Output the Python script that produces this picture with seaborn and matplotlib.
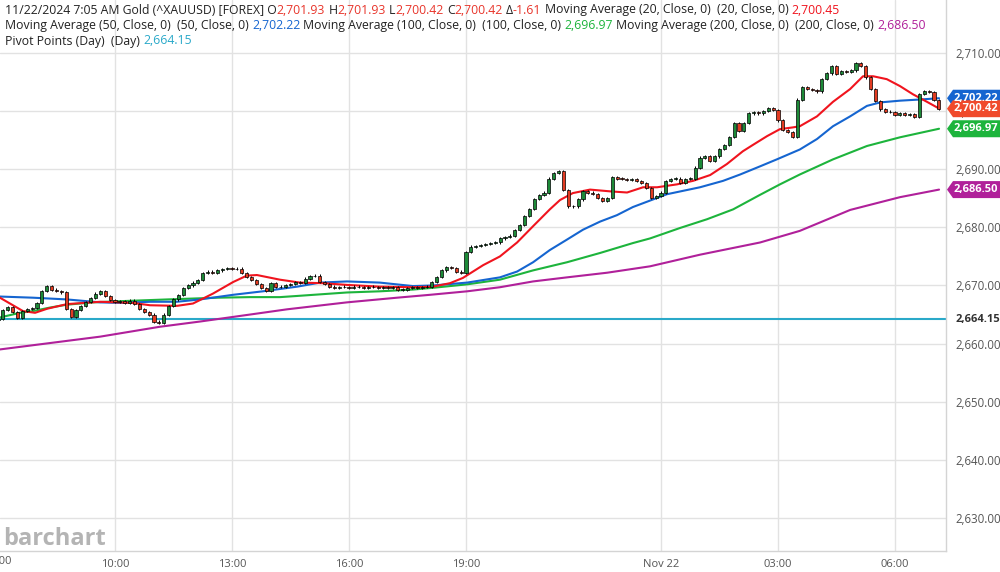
import matplotlib
matplotlib.use("Agg")
import matplotlib.pyplot as plt
from matplotlib.patches import Polygon
from matplotlib.font_manager import FontProperties
from matplotlib.transforms import IdentityTransform
import numpy as np
import pandas as pd
import seaborn as sns

# ─── Data ─────────────────────────────────────────────────────────────────────
# x axis = hours since 07:00 Nov 21, one candle every 7.5 minutes
CANDLE_STEP = 0.125
FIRST_OPEN = 2664.0
closes = [
    2664.2, 2665.8, 2666.3, 2665.4, 2664.4, 2665.6, 2666.0, 2666.1,   # 07:00
    2667.0, 2669.0, 2669.9, 2669.3, 2669.0, 2668.8, 2666.0, 2664.6,   # 08:00
    2665.8, 2666.5, 2667.2, 2667.8, 2668.6, 2669.0, 2668.2, 2667.5,   # 09:00
    2667.2, 2667.3, 2667.0, 2667.4, 2666.8, 2665.9, 2665.4, 2665.0,   # 10:00
    2663.8, 2663.6, 2665.0, 2666.5, 2667.6, 2668.4, 2669.6, 2670.0,   # 11:00
    2670.5, 2670.9, 2672.2, 2672.4, 2672.1, 2672.6, 2672.8, 2673.0,   # 12:00
    2672.8, 2672.9, 2672.2, 2671.5, 2670.9, 2670.3, 2669.6, 2669.1,   # 13:00
    2670.4, 2669.8, 2669.7, 2670.1, 2670.3, 2670.6, 2670.5, 2671.2,   # 14:00
    2671.6, 2671.7, 2670.6, 2670.2, 2669.8, 2669.6, 2669.7, 2669.7,   # 15:00
    2669.6, 2669.8, 2669.7, 2669.6, 2669.7, 2669.7, 2669.6, 2669.7,   # 16:00
    2669.6, 2669.7, 2669.2, 2669.3, 2669.6, 2669.7, 2669.6, 2669.7,   # 17:00
    2669.8, 2670.6, 2671.5, 2672.6, 2673.1, 2673.0, 2672.4, 2672.1,   # 18:00
    2675.8, 2676.7, 2676.8, 2677.0, 2677.1, 2677.3, 2677.4, 2678.1,   # 19:00
    2678.3, 2678.6, 2679.5, 2680.4, 2682.0, 2683.2, 2684.9, 2685.6,   # 20:00
    2686.0, 2688.4, 2689.3, 2689.7, 2686.4, 2683.6, 2683.6, 2684.8,   # 21:00
    2686.2, 2686.0, 2685.7, 2685.0, 2684.6, 2685.0, 2688.6, 2688.4,   # 22:00
    2688.3, 2688.2, 2688.3, 2688.0, 2687.6, 2686.8, 2685.0, 2685.4,   # 23:00
    2686.0, 2688.0, 2688.3, 2688.4, 2687.6, 2688.3, 2688.4, 2690.3,   # 00:00
    2692.0, 2692.2, 2691.4, 2692.2, 2693.5, 2694.2, 2695.6, 2697.9,   # 01:00
    2696.6, 2698.0, 2699.6, 2699.9, 2699.6, 2700.0, 2700.5, 2700.2,   # 02:00
    2698.4, 2696.8, 2696.4, 2695.5, 2702.0, 2704.1, 2703.8, 2703.6,   # 03:00
    2703.4, 2705.5, 2706.5, 2707.8, 2706.4, 2706.9, 2706.8, 2707.0,   # 04:00
    2708.3, 2707.8, 2705.8, 2703.8, 2701.8, 2700.3, 2699.9, 2699.8,   # 05:00
    2699.4, 2699.6, 2699.3, 2699.5, 2699.0, 2703.0, 2703.5, 2703.3,   # 06:00
    2701.93, 2700.42,                                                 # 07:00
]

ma20_h = [0.05, 0.64, 0.95, 1.26, 1.77, 2.62, 3.46, 3.90, 4.59, 5.00, 5.51, 6.03,
          6.38, 6.64, 7.23, 7.74, 8.33, 8.95, 9.79, 10.64, 11.15, 11.59, 11.92,
          12.44, 12.87, 13.31, 13.72, 14.15, 14.41, 14.74, 15.18, 15.69, 16.13,
          16.54, 16.90, 17.41, 17.82, 18.26, 18.69, 19.10, 19.36, 19.72, 20.05,
          20.38, 20.56, 21.00, 21.41, 21.85, 22.18, 22.44, 22.79, 23.13, 23.46,
          23.82, 24.13]
ma20_v = [2667.9, 2665.6, 2665.3, 2666.0, 2666.8, 2667.2, 2667.0, 2666.6, 2666.5,
          2666.9, 2668.6, 2670.6, 2671.7, 2671.8, 2671.0, 2670.5, 2670.4, 2670.1,
          2669.8, 2669.7, 2669.8, 2670.4, 2671.3, 2673.5, 2675.0, 2677.4, 2680.2,
          2683.1, 2684.7, 2685.9, 2686.5, 2686.2, 2686.0, 2686.9, 2686.9, 2687.4,
          2688.0, 2689.0, 2690.9, 2693.1, 2694.2, 2695.7, 2696.9, 2697.2, 2697.4,
          2699.1, 2701.6, 2703.8, 2706.0, 2706.0, 2705.5, 2704.3, 2702.9, 2701.6,
          2700.45]

ma50_h = [0.05, 0.90, 1.77, 2.62, 3.13, 3.90, 4.59, 5.18, 6.03, 6.79, 7.67, 8.26,
          8.95, 9.79, 10.64, 11.15, 12.03, 12.87, 13.31, 13.72, 14.15, 14.59, 15.00,
          15.44, 15.87, 16.28, 17.15, 18.00, 18.59, 19.03, 19.54, 19.97, 20.56,
          21.00, 21.41, 21.85, 22.28, 22.62, 23.13, 23.64, 24.13]
ma50_v = [2668.1, 2667.9, 2667.6, 2667.1, 2667.0, 2667.2, 2667.2, 2667.6, 2668.4,
          2669.0, 2669.8, 2670.5, 2670.7, 2670.5, 2669.9, 2670.0, 2670.5, 2671.4,
          2672.4, 2674.0, 2676.1, 2677.9, 2679.6, 2681.0, 2682.1, 2683.5, 2685.7,
          2686.9, 2688.0, 2689.1, 2690.5, 2691.7, 2693.4, 2695.2, 2697.4, 2699.1,
          2700.9, 2701.5, 2701.8, 2702.0, 2702.22]

ma100_h = [0.05, 0.56, 0.90, 1.33, 1.77, 2.44, 3.13, 4.33, 5.62, 6.46, 7.23, 7.67,
           8.95, 9.79, 10.64, 11.15, 12.03, 12.87, 13.72, 14.59, 15.44, 16.28,
           16.72, 17.49, 18.18, 18.85, 19.54, 20.05, 20.56, 21.41, 22.28, 23.13,
           24.13]
ma100_v = [2664.5, 2665.3, 2665.6, 2666.2, 2666.7, 2667.1, 2667.3, 2667.6, 2667.9,
           2668.0, 2668.0, 2668.2, 2668.8, 2669.0, 2669.3, 2669.6, 2670.2, 2671.0,
           2672.6, 2674.0, 2675.6, 2677.3, 2678.1, 2679.9, 2681.4, 2683.1, 2685.6,
           2687.4, 2689.1, 2691.7, 2694.0, 2695.5, 2696.97]

ma200_h = [0.05, 2.62, 4.15, 5.18, 6.46, 7.41, 8.95, 10.23, 11.08, 12.03, 12.87,
           13.72, 14.59, 15.62, 16.72, 18.00, 19.54, 20.56, 21.85, 23.13, 24.13]
ma200_v = [2659.0, 2661.2, 2662.9, 2663.8, 2665.0, 2665.9, 2667.1, 2667.9, 2668.4,
           2669.0, 2669.7, 2670.7, 2671.4, 2672.2, 2673.3, 2675.3, 2677.4, 2679.4,
           2683.0, 2685.2, 2686.5]

PIVOT = 2664.15

tick_hours = [3, 6, 9, 12, 17, 20, 23]
tick_labels = ["10:00", "13:00", "16:00", "19:00", "Nov 22", "03:00", "06:00"]
price_ticks = [2630, 2640, 2650, 2660, 2670, 2680, 2690, 2700, 2710]

# ─── Style ────────────────────────────────────────────────────────────────────
W, H = 1000, 572
FONT = ["Open Sans", "DejaVu Sans"]
INK = "#222222"
AXIS_TXT = "#555555"
GRID = "#e2e2e2"
C_UP, C_DOWN = "#1d8a38", "#e23b22"
C_MA20, C_MA50, C_MA100, C_MA200 = "#f0141e", "#1565d0", "#1db43c", "#b0209a"
C_PIVOT = "#2aa9c9"
C_VAL = "#e8352b"

sns.set_style("white")
plt.rcParams["font.family"] = FONT

fig = plt.figure(figsize=(W / 100, H / 100), dpi=100)
ax = fig.add_axes([0, 21 / H, 946 / W, 551 / H])
ax.set_xlim(0.0513, 24.308)
ax.set_ylim(2624.32, 2719.12)

# ─── Grid & axes ──────────────────────────────────────────────────────────────
for h in tick_hours:
    ax.axvline(h, color=GRID, lw=1, zorder=0)
for p in price_ticks:
    ax.axhline(p, color=GRID, lw=1, zorder=0)

for side in ["top", "left"]:
    ax.spines[side].set_visible(False)
for side in ["right", "bottom"]:
    ax.spines[side].set_color("#d4d4d4")
    ax.spines[side].set_linewidth(1)

ax.set_xticks(tick_hours)
ax.set_xticklabels(tick_labels)
ax.yaxis.tick_right()
ax.set_yticks(price_ticks)
ax.set_yticklabels([f"{p:,.2f}" for p in price_ticks])
ax.tick_params(axis="x", length=3, width=1, color="#d4d4d4", pad=3,
               labelsize=8, labelcolor=AXIS_TXT)
ax.tick_params(axis="y", length=0, pad=7, labelsize=8.3, labelcolor=AXIS_TXT)
# 07:00 sits just left of the view, only its tail shows
fig.text(-2 / W, 1 - 562 / H, "07:00", ha="center", va="center",
         fontsize=8, color=AXIS_TXT)

# ─── Moving averages & pivot ──────────────────────────────────────────────────
ax.axhline(PIVOT, color=C_PIVOT, lw=1.5, zorder=2)
ma_lines = [
    (ma200_h, ma200_v, C_MA200),
    (ma100_h, ma100_v, C_MA100),
    (ma50_h, ma50_v, C_MA50),
    (ma20_h, ma20_v, C_MA20),
]
for hx, vy, col in ma_lines:
    df = pd.DataFrame({"h": hx, "v": vy})
    sns.lineplot(data=df, x="h", y="v", color=col, lw=1.5, ax=ax,
                 zorder=3, sort=False)
ax.set_xlabel("")
ax.set_ylabel("")

# ─── Candles ──────────────────────────────────────────────────────────────────
closes = np.array(closes)
opens = np.concatenate([[FIRST_OPEN], closes[:-1]])
times = np.arange(len(closes)) * CANDLE_STEP
up = closes >= opens
body_lo = np.minimum(opens, closes)
body_h = np.maximum(np.abs(closes - opens), 0.12)

ax.vlines(times, body_lo - 0.2, body_lo + body_h + 0.2, color="black",
          lw=0.7, zorder=4)
ax.bar(times, body_h, bottom=body_lo, width=0.08,
       color=np.where(up, C_UP, C_DOWN), edgecolor="black", lw=0.5, zorder=5)

# ─── Price tags on the right ──────────────────────────────────────────────────
def price_tag(price, color, text_color="white"):
    yc = ax.transData.transform((0, price))[1]
    pts = [(947, yc), (953, yc + 8.5), (1000, yc + 8.5), (1000, yc - 8.5), (953, yc - 8.5)]
    fig.add_artist(Polygon(pts, closed=True, facecolor=color, edgecolor="none",
                           transform=IdentityTransform(), zorder=20))
    fig.text(976 / W, yc / H, f"{price:,.2f}", ha="center", va="center",
             color=text_color, fontsize=8, fontweight="bold", zorder=21)

price_tag(ma200_v[-1], C_MA200)
price_tag(ma100_v[-1], C_MA100)
price_tag(ma50_v[-1], C_MA50)
price_tag(closes[-1], "#f04a2c")
yc = ax.transData.transform((0, PIVOT))[1]
fig.text(956 / W, yc / H, f"{PIVOT:,.2f}", ha="left", va="center",
         color="#333333", fontsize=8, fontweight="bold", zorder=21)

# ─── Header legend ────────────────────────────────────────────────────────────
renderer = fig.canvas.get_renderer()
hdr_prop = FontProperties(family=FONT, size=8.8)


def advance(s):
    w2 = renderer.get_text_width_height_descent("||", hdr_prop, ismath=False)[0]
    return renderer.get_text_width_height_descent("|" + s + "|", hdr_prop, ismath=False)[0] - w2


def draw_line(y_px, segments, x0=5):
    prefix = ""
    for txt, col in segments:
        lead = txt[: len(txt) - len(txt.lstrip(" "))]
        x = x0 + advance(prefix + lead)
        fig.text(x / W, 1 - y_px / H, txt.strip(" "), color=col,
                 fontproperties=hdr_prop, ha="left", va="center", zorder=30)
        prefix += txt


draw_line(10, [
    ("11/22/2024 7:05 AM Gold (^XAUUSD) [FOREX] O", INK), ("2,701.93", C_VAL),
    (" H", INK), ("2,701.93", C_VAL), (" L", INK), ("2,700.42", C_VAL),
    (" C", INK), ("2,700.42", C_VAL), (" Δ", INK), ("-1.61", C_VAL),
    (" Moving Average (20, Close, 0)  (20, Close, 0) ", INK), ("2,700.45", C_MA20),
])
draw_line(25.5, [
    ("Moving Average (50, Close, 0)  (50, Close, 0) ", INK), ("2,702.22", C_MA50),
    (" Moving Average (100, Close, 0)  (100, Close, 0) ", INK), ("2,696.97", C_MA100),
    (" Moving Average (200, Close, 0)  (200, Close, 0) ", INK), ("2,686.50", C_MA200),
])
draw_line(41, [("Pivot Points (Day)  (Day) ", INK), ("2,664.15", C_PIVOT)])

# watermark
fig.text(3 / W, 1 - 545 / H, "barchart", ha="left", va="baseline",
         fontsize=17, fontweight="bold", color="#b4b4b4", zorder=1)

fig.savefig("out.png", dpi=100)
